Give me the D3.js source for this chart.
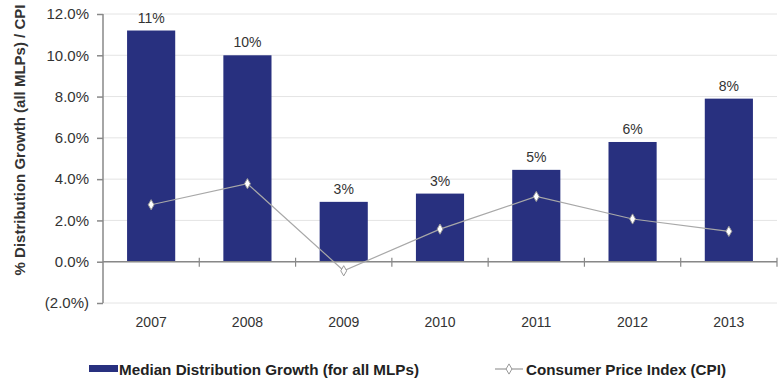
<!DOCTYPE html>
<html><head><meta charset="utf-8">
<script src="https://cdn.jsdelivr.net/npm/d3@7/dist/d3.min.js"></script>
<style>
body{margin:0;background:#fff;}
text{font-family:"Liberation Sans",Arial,sans-serif;}
</style></head>
<body><svg id="c" width="783" height="379"></svg>
<script>
const years = ["2007","2008","2009","2010","2011","2012","2013"];
const distGrowth = [11.2, 10.0, 2.9, 3.3, 4.45, 5.8, 7.9];
const distLabels = ["11%","10%","3%","3%","5%","6%","8%"];
const cpi = [2.76, 3.78, -0.44, 1.58, 3.16, 2.07, 1.47];
const yTicks = [-2, 0, 2, 4, 6, 8, 10, 12];
const yTickLabels = ["(2.0%)","0.0%","2.0%","4.0%","6.0%","8.0%","10.0%","12.0%"];
const yTitle = "% Distribution Growth (all MLPs) /  CPI";
const legendLabels = ["Median Distribution Growth (for all MLPs)", "Consumer Price Index (CPI)"];

const svg = d3.select("#c");
const m = {l:103, r:777, t:14, b:303};
const x = d3.scaleBand().domain(years).range([m.l, m.r]).paddingInner(0.5).paddingOuter(0.25);
const xb = d3.scaleBand().domain(years).range([m.l, m.r]);
const y = d3.scaleLinear().domain([-2, 12]).range([m.b, m.t]);

// gridlines
svg.append("g").selectAll("line").data(yTicks).join("line")
  .attr("x1", m.l).attr("x2", m.r)
  .attr("y1", d=>y(d)).attr("y2", d=>y(d))
  .attr("stroke", "#e4e4e4").attr("stroke-width", 1);

// bars
svg.append("g").selectAll("rect").data(years).join("rect")
  .attr("x", d=>x(d)).attr("width", x.bandwidth())
  .attr("y", (d,i)=>y(distGrowth[i])).attr("height", (d,i)=>y(0)-y(distGrowth[i]))
  .attr("fill", "#28307f");

// bar labels
svg.append("g").selectAll("text").data(years).join("text")
  .attr("x", d=>x(d)+x.bandwidth()/2)
  .attr("y", (d,i)=>y(distGrowth[i]) - 8)
  .attr("text-anchor","middle").attr("font-size", 14).attr("fill","#333")
  .text((d,i)=>distLabels[i]);

// y axis
const yAxis = d3.axisLeft(y).tickValues(yTicks).tickSize(6).tickPadding(8)
  .tickFormat((d,i)=>yTickLabels[i]);
const gy = svg.append("g").attr("transform", `translate(${m.l},0)`).call(yAxis);
gy.select(".domain").attr("stroke","#888").attr("stroke-width",1.5).attr("d", `M0,${m.t}V${m.b}`);
gy.selectAll(".tick line").attr("stroke","#888").attr("stroke-width",1.5);
gy.selectAll(".tick text").attr("font-size",15).attr("fill","#333").attr("font-family","Liberation Sans, Arial, sans-serif");

// zero axis line with ticks between bands
const gx = svg.append("g").attr("transform", `translate(0,${y(0)})`);
gx.append("line").attr("x1", m.l).attr("x2", m.r).attr("stroke","#888").attr("stroke-width",1.5);
gx.selectAll(".sep").data(years).join("line").attr("class","sep")
  .attr("x1", d=>xb(d)+xb.bandwidth()).attr("x2", d=>xb(d)+xb.bandwidth())
  .attr("y1",-4).attr("y2",5).attr("stroke","#888").attr("stroke-width",1.2);

// x labels
svg.append("g").selectAll("text").data(years).join("text")
  .attr("x", d=>xb(d)+xb.bandwidth()/2).attr("y", 327)
  .attr("text-anchor","middle").attr("font-size",14).attr("fill","#333")
  .text(d=>d);

// CPI line
const line = d3.line().x((d,i)=>xb(years[i])+xb.bandwidth()/2).y(d=>y(d));
svg.append("path").datum(cpi).attr("d", line).attr("fill","none")
  .attr("stroke","#a8a8a8").attr("stroke-width",1.2);
const diamond = d3.symbol().type(d3.symbolDiamond).size(30);
svg.append("g").selectAll("path").data(cpi).join("path")
  .attr("transform",(d,i)=>`translate(${xb(years[i])+xb.bandwidth()/2},${y(d)})`)
  .attr("d", diamond).attr("fill","#fff").attr("stroke","#999").attr("stroke-width",1);

// y title
svg.append("text").attr("transform","translate(25,140) rotate(-90)")
  .attr("text-anchor","middle").attr("font-size",15).attr("font-weight","bold").attr("fill","#333")
  .text(yTitle);

// legend
const lg = svg.append("g");
lg.append("rect").attr("x",89).attr("y",365).attr("width",29).attr("height",7).attr("fill","#28307f");
lg.append("text").attr("x",119).attr("y",375).attr("font-size",15).attr("font-weight","bold").attr("fill","#222")
  .attr("textLength",300).attr("lengthAdjust","spacingAndGlyphs")
  .text(legendLabels[0]);
lg.append("line").attr("x1",495).attr("x2",523).attr("y1",369).attr("y2",369).attr("stroke","#999").attr("stroke-width",1.2);
lg.append("path").attr("transform","translate(509,369)").attr("d",diamond).attr("fill","#fff").attr("stroke","#999");
lg.append("text").attr("x",526).attr("y",375).attr("font-size",15).attr("font-weight","bold").attr("fill","#222")
  .attr("textLength",200).attr("lengthAdjust","spacingAndGlyphs")
  .text(legendLabels[1]);
</script></body></html>
